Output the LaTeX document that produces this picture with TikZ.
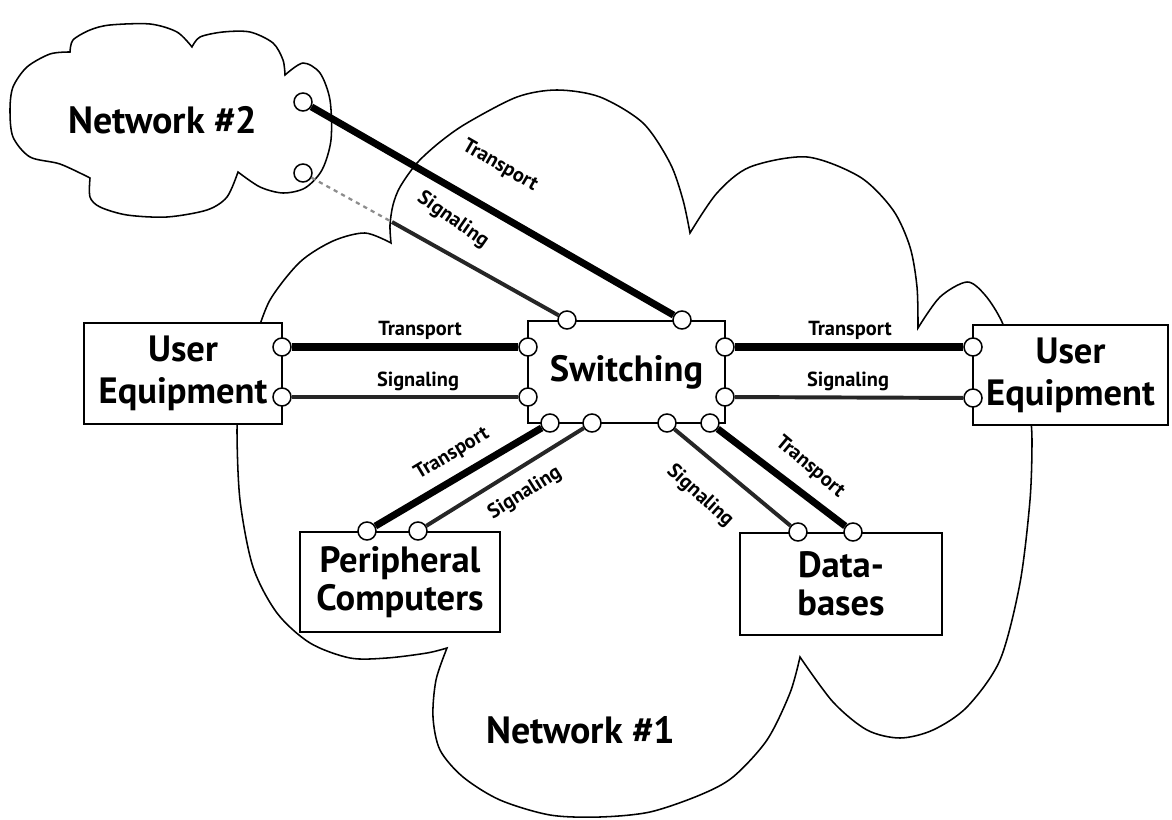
\documentclass[tikz,border=0pt]{standalone}
\usepackage{fontspec}
\setmainfont{PT Sans}
\usepackage{tikz}
\usetikzlibrary{shapes,arrows}

\begin{document}
\begin{tikzpicture}[x=0.025cm, y=-0.025cm]
		\tikzstyle{box}=[draw, rectangle, line width=1.1pt, fill=white, align=center, font=\fontsize{26}{27}\selectfont\bfseries];
		\tikzstyle{port}=[draw, circle, line width=1.1pt, fill=white, inner sep=0pt, minimum size=0.45cm];
		\tikzstyle{cloudline}=[line width=1.1pt];
		\tikzstyle{cloudlabel}=[font=\fontsize{27}{28}\selectfont\bfseries];
		\tikzstyle{lbl}=[font=\fontsize{14.5}{15}\selectfont\bfseries, inner sep=0pt];
		\tikzstyle{transport}=[line width=5pt];
		\tikzstyle{signaling}=[line width=2.8pt, black!85];
		\tikzstyle{faint}=[line width=1.6pt, black!45, dash pattern=on 3pt off 3pt];
		\useasboundingbox (0,0) rectangle (1172,820);

		% clouds
		\draw[cloudline] plot[smooth] coordinates {(90,178) (60,164) (30,157) (13,137) (10,110) (13,87) (27,67) (50,54) (70,52)}
			-- plot[smooth] coordinates {(70,52) (73,40) (90,30) (110,25) (150,24) (177,32) (192,47)}
			-- plot[smooth] coordinates {(192,47) (200,37) (223,32) (250,32) (273,43) (283,60) (285,75)}
			-- plot[smooth] coordinates {(285,75) (303,63) (320,73) (330,100) (331,140) (322,170) (305,188) (283,193) (260,187) (238,172)}
			-- plot[smooth] coordinates {(238,172) (227,197) (207,210) (167,217) (127,215) (100,207) (90,197) (90,178)}
			-- cycle;
		\draw[cloudline] plot[smooth] coordinates {(255,340) (270,300) (300,262) (333,241) (365,233) (391,243)}
			-- plot[smooth] coordinates {(391,243) (390,225) (393,205) (400,187) (417,163) (440,142) (467,123) (517,97) (557,90) (600,97) (643,123) (670,163) (683,200) (690,233)}
			-- plot[smooth] coordinates {(690,233) (717,193) (750,167) (807,157) (860,177) (893,210) (910,247) (917,287) (918,328)}
			-- plot[smooth] coordinates {(918,328) (940,297) (967,282) (985,295) (1002,322) (1020,370)}
			-- plot[smooth] coordinates {(1030,410) (1032,440) (1030,500) (1020,583) (1000,660) (967,707) (933,730) (900,738) (867,730) (833,702) (800,657)}
			-- plot[smooth] coordinates {(800,657) (790,693) (767,740) (733,777) (700,795) (650,812) (600,817) (550,815) (500,800) (463,777) (440,750) (433,717) (436,680) (447,648)}
			-- plot[smooth] coordinates {(447,648) (427,653) (387,658) (350,658) (310,643) (277,613) (253,567) (240,500) (237,430) (240,400)}
			-- cycle;
		\node[cloudlabel] (net2) at (163,120) {Network \#2};
		\node[cloudlabel] (net1) at (581,730) {Network \#1};

		% boxes
		\node[box, minimum width=4.95cm, minimum height=2.53cm, font=\fontsize{26}{30}\selectfont\bfseries] (ueLeft) at (183,373.5) {User\\Equipment};
		\node[box, minimum width=4.93cm, minimum height=2.55cm] (switching) at (626.5,372) {Switching};
		\node[box, minimum width=4.88cm, minimum height=2.5cm, font=\fontsize{26}{30}\selectfont\bfseries] (ueRight) at (1070.5,375) {User\\Equipment};
		\node[box, minimum width=5cm, minimum height=2.5cm] (periph) at (400,582) {Peripheral\\Computers};
		\node[box, minimum width=5.05cm, minimum height=2.55cm] (dbase) at (841,584) {Data-\\bases};

		% ports
		\node[port] (n2T) at (303,102) {};
		\node[port] (n2S) at (303,173) {};
		\node[port] (ueLeftT) at (282,347) {};
		\node[port] (ueLeftS) at (282,397) {};
		\node[port] (ueRightT) at (973,347) {};
		\node[port] (ueRightS) at (973,398) {};
		\node[port] (swTopS) at (567,320) {};
		\node[port] (swTopT) at (682,320) {};
		\node[port] (swLeftT) at (528,347) {};
		\node[port] (swLeftS) at (528,397) {};
		\node[port] (swRightT) at (725,347) {};
		\node[port] (swRightS) at (725,397) {};
		\node[port] (swBotPT) at (550,423) {};
		\node[port] (swBotPS) at (592,423) {};
		\node[port] (swBotDS) at (667,423) {};
		\node[port] (swBotDT) at (710,423) {};
		\node[port] (periphT) at (367,531) {};
		\node[port] (periphS) at (418,531) {};
		\node[port] (dbaseS) at (798,532) {};
		\node[port] (dbaseT) at (853,532) {};
		\coordinate (n2Cross) at (392,222);

		% links
		\draw[transport] (n2T) -- (swTopT);
		\draw[faint] (n2S) -- (n2Cross);
		\draw[signaling] (n2Cross) -- (swTopS);
		\draw[transport] (ueLeftT) -- (swLeftT);
		\draw[signaling] (ueLeftS) -- (swLeftS);
		\draw[transport] (swRightT) -- (ueRightT);
		\draw[signaling] (swRightS) -- (ueRightS);
		\draw[transport] (swBotPT) -- (periphT);
		\draw[signaling] (swBotPS) -- (periphS);
		\draw[signaling] (swBotDS) -- (dbaseS);
		\draw[transport] (swBotDT) -- (dbaseT);

		% labels
		\node[lbl, rotate=-30] (lblN2T) at (500,166) {Transport};
		\node[lbl, rotate=-35] (lblN2S) at (453,220) {Signaling};
		\node[lbl] (lblLT) at (420,330) {Transport};
		\node[lbl] (lblLS) at (418,381) {Signaling};
		\node[lbl] (lblRT) at (850,330) {Transport};
		\node[lbl] (lblRS) at (848,381) {Signaling};
		\node[lbl, rotate=31] (lblPT) at (452,454) {Transport};
		\node[lbl, rotate=32] (lblPS) at (525,493) {Signaling};
		\node[lbl, rotate=-42] (lblDS) at (700,496) {Signaling};
		\node[lbl, rotate=-40] (lblDT) at (810,467) {Transport};
	\end{tikzpicture}
\end{document}
